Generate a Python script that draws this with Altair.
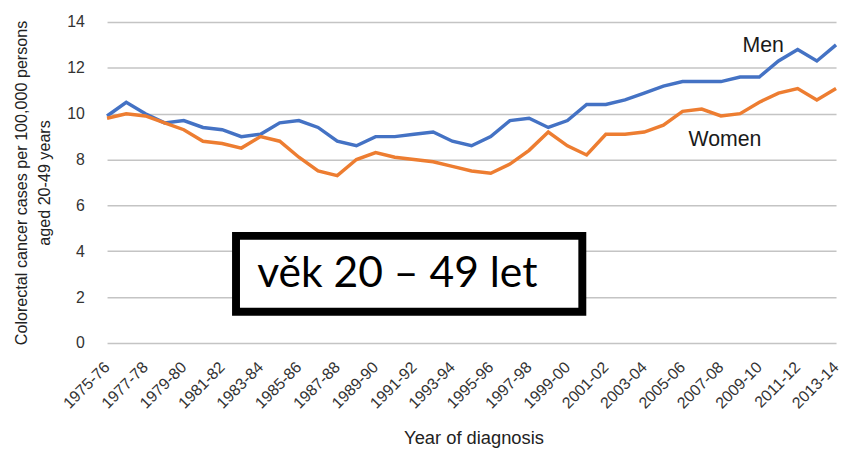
import altair as alt
import pandas as pd

years = [f"{y}-{str(y + 1)[-2:]}" for y in range(1975, 2014)]
men = [9.9, 10.5, 10.0, 9.6, 9.7, 9.4, 9.3, 9.0, 9.1, 9.6,
       9.7, 9.4, 8.8, 8.6, 9.0, 9.0, 9.1, 9.2, 8.8, 8.6,
       9.0, 9.7, 9.8, 9.4, 9.7, 10.4, 10.4, 10.6, 10.9, 11.2,
       11.4, 11.4, 11.4, 11.6, 11.6, 12.3, 12.8, 12.3, 13.0]
women = [9.8, 10.0, 9.9, 9.6, 9.3, 8.8, 8.7, 8.5, 9.0, 8.8,
         8.1, 7.5, 7.3, 8.0, 8.3, 8.1, 8.0, 7.9, 7.7, 7.5,
         7.4, 7.8, 8.4, 9.2, 8.6, 8.2, 9.1, 9.1, 9.2, 9.5,
         10.1, 10.2, 9.9, 10.0, 10.5, 10.9, 11.1, 10.6, 11.1]
series = ["Men", "Women"]
colors = ["#4472C4", "#ED7D31"]
y_ticks = [0, 2, 4, 6, 8, 10, 12, 14]

FONT = "Liberation Sans"

df = pd.DataFrame({
    "year": years * 2,
    "sex": ["Men"] * len(years) + ["Women"] * len(years),
    "value": men + women,
})

labels_df = pd.DataFrame({
    "year": ["2009-10", "2007-08"],
    "value": [12.7, 8.6],
    "text": ["Men", "Women"],
})

box_df = pd.DataFrame({"x": ["1981-82"], "x2": ["1999-00"], "y": [4.67], "y2": [1.36]})
box_text_df = pd.DataFrame({"year": ["1982-83"], "value": [2.42], "text": ["věk 20 – 49 let"]})

xscale = alt.Scale(type="point", domain=years, range=[8, 744], padding=0)
yscale = alt.Scale(domain=[0, 14])

lines = alt.Chart(df).mark_line(strokeWidth=3.5).encode(
    x=alt.X("year:N", scale=xscale, sort=years,
            axis=alt.Axis(values=years[::2], labelAngle=315, labelFont=FONT,
                          labelFontSize=16, labelColor="#333333", ticks=False,
                          domain=False, grid=False, labelPadding=16, labelOffset=-6,
                          title="Year of diagnosis", titleFont=FONT,
                          titleFontSize=18.5, titleFontWeight="normal",
                          titleColor="#222222", titleX=378, titleY=96,
                          titleBaseline="middle")),
    y=alt.Y("value:Q", scale=yscale,
            axis=alt.Axis(values=y_ticks, labelFont=FONT, labelFontSize=16,
                          labelColor="#333333", ticks=False, tickSize=0,
                          domain=False, labelPadding=15,
                          gridColor="#c4c4c4", gridWidth=1.5,
                          title=["Colorectal cancer cases per 100,000 persons",
                                 "aged 20-49 years"],
                          titleFont=FONT, titleFontSize=16.3,
                          titleFontWeight="normal", titleColor="#222222",
                          titleLineHeight=23, titleAngle=270, titleX=-78,
                          titleY=162, titleBaseline="middle", titleAlign="center")),
    color=alt.Color("sex:N", scale=alt.Scale(domain=series, range=colors), legend=None),
)

labels = alt.Chart(labels_df).mark_text(font=FONT, fontSize=21.5, color="#1a1a1a",
                                         align="center", baseline="alphabetic", dx=4).encode(
    x=alt.X("year:N", scale=xscale, sort=years),
    y=alt.Y("value:Q", scale=yscale),
    text="text:N",
)

box = alt.Chart(box_df).mark_rect(fill="white", stroke="black", strokeWidth=8,
                                   xOffset=14, x2Offset=15).encode(
    x=alt.X("x:N", scale=xscale, sort=years),
    x2="x2:N",
    y=alt.Y("y:Q", scale=yscale),
    y2="y2:Q",
)

box_text = alt.Chart(box_text_df).mark_text(font="Lato", fontSize=43, color="black",
                                             align="left", baseline="alphabetic", dx=16).encode(
    x=alt.X("year:N", scale=xscale, sort=years),
    y=alt.Y("value:Q", scale=yscale),
    text="text:N",
)

chart = alt.layer(lines, labels, box, box_text).properties(
    width=748, height=324,
    autosize=alt.AutoSizeParams(type="none"),
    padding={"left": 92, "top": 12, "right": 0, "bottom": 109},
).configure_view(stroke=None)

chart.save("out.html", embed_options={"renderer": "svg", "actions": False})
